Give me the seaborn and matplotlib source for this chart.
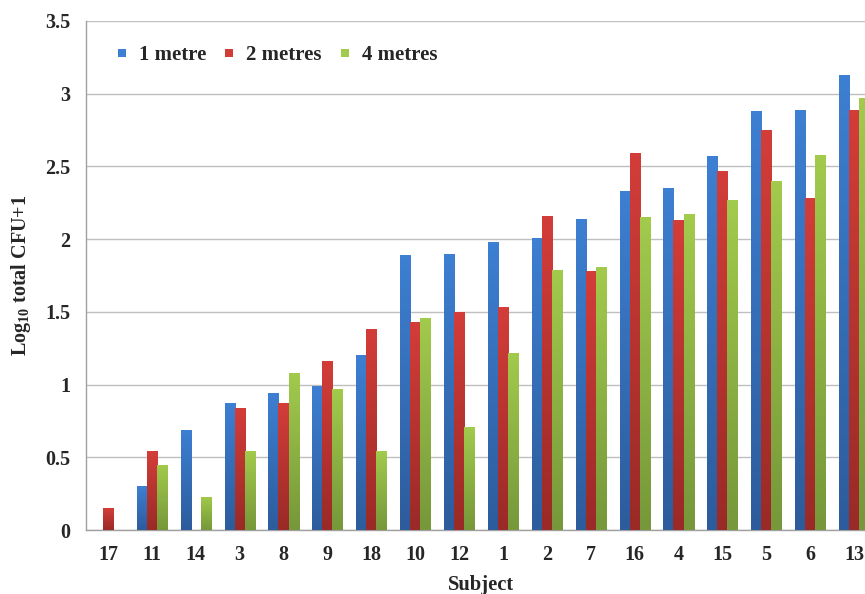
import numpy as np
import pandas as pd
import seaborn as sns
import matplotlib.pyplot as plt
from matplotlib.colors import LinearSegmentedColormap
from matplotlib.lines import Line2D

# Data
subjects = ["17", "11", "14", "3", "8", "9", "18", "10", "12", "1",
            "2", "7", "16", "4", "15", "5", "6", "13"]
one_metre = [0.0, 0.30, 0.69, 0.87, 0.94, 0.99, 1.20, 1.89, 1.90, 1.98,
             2.01, 2.14, 2.33, 2.35, 2.57, 2.88, 2.89, 3.13]
two_metres = [0.15, 0.54, 0.0, 0.84, 0.87, 1.16, 1.38, 1.43, 1.50, 1.53,
              2.16, 1.78, 2.59, 2.13, 2.47, 2.75, 2.28, 2.89]
four_metres = [0.0, 0.45, 0.23, 0.54, 1.08, 0.97, 0.54, 1.46, 0.71, 1.22,
               1.79, 1.81, 2.15, 2.17, 2.27, 2.40, 2.58, 2.97]
distances = ["1 metre", "2 metres", "4 metres"]

# top / bottom colours of the gradient fill
top_colors = ["#3d7fd2", "#d33d39", "#a2ca4c"]
bottom_colors = ["#2d5c9c", "#9a2a27", "#76983a"]

sns.set_style("white")
plt.rcParams['font.family'] = ['Liberation Serif', 'DejaVu Serif']
plt.rcParams['font.weight'] = 'bold'
plt.rcParams['mathtext.default'] = 'regular'

df = pd.DataFrame({
    "Subject": subjects * 3,
    "Value": one_metre + two_metres + four_metres,
    "Distance": [d for d in distances for _ in subjects],
})

fig = plt.figure(figsize=(8.65, 5.94), dpi=100)
# axes run past the right edge, like the cropped original
ax = fig.add_axes([86 / 865, 64 / 594, 790 / 865, 509 / 594])

sns.barplot(data=df, x="Subject", y="Value", hue="Distance", order=subjects,
            hue_order=distances, palette=top_colors, width=0.684,
            linewidth=0, legend=False, ax=ax, zorder=2)

# vertical gradient on each bar
grad = np.linspace(0, 1, 64).reshape(-1, 1)
n = len(subjects)
for i, patch in enumerate(ax.patches):
    h = patch.get_height()
    if h <= 0:
        continue
    k = i // n
    cmap = LinearSegmentedColormap.from_list("g%d" % k, [bottom_colors[k], top_colors[k]])
    x0 = patch.get_x()
    w = patch.get_width()
    im = ax.imshow(grad, extent=[x0, x0 + w, 0, h], origin='lower', aspect='auto',
                   cmap=cmap, zorder=3, interpolation='bilinear')
    im.set_clip_path(patch)

ax.set_xlim(-0.5, n - 0.5)
ax.set_ylim(0, 3.5)
ax.set_yticks(np.arange(0, 3.51, 0.5))
ax.set_yticklabels(["0", "0.5", "1", "1.5", "2", "2.5", "3", "3.5"])
ax.yaxis.grid(True, color="#bfbfbf", linewidth=1.0, zorder=0)
ax.set_axisbelow(True)

for s in ["top", "right"]:
    ax.spines[s].set_visible(False)
for s in ["left", "bottom"]:
    ax.spines[s].set_color("#a0a0a0")
    ax.spines[s].set_linewidth(1.0)

ax.set_xticks(np.arange(-0.5, n, 1.0), minor=True)
ax.tick_params(axis='x', which='major', length=0, pad=11, labelsize=14.5)
ax.tick_params(axis='x', which='minor', length=5, color="#a0a0a0", width=1)
ax.tick_params(axis='y', length=4, color="#a0a0a0", width=1, pad=7, labelsize=14.5)

ax.set_xlabel("Subject", fontsize=14.8, fontweight='bold', labelpad=7)
ax.set_ylabel("Log$_{10}$ total CFU+1", fontsize=14.5, fontweight='bold', labelpad=9)

handles = [Line2D([0], [0], marker='s', linestyle='', markersize=5.6,
                  markerfacecolor=c, markeredgewidth=0) for c in top_colors]
ax.legend(handles, distances, loc='center left', ncol=3, frameon=False,
          bbox_to_anchor=((113.7 - 86) / 790, (530 - 55) / 509),
          borderaxespad=0, borderpad=0, handlelength=0.8, handletextpad=0.42,
          columnspacing=0.7, prop={'size': 15, 'weight': 'bold'})

fig.savefig("out.png", dpi=100)
